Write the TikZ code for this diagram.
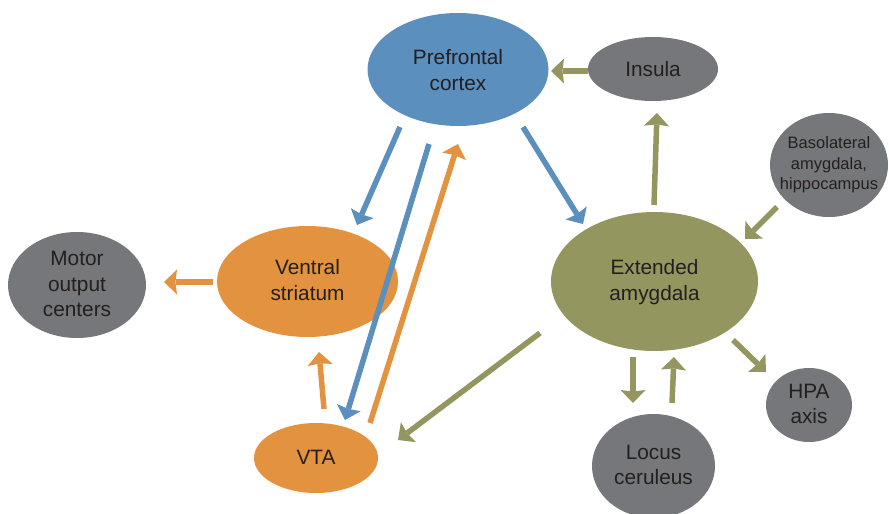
\documentclass[tikz,border=0pt]{standalone}
\usepackage{fontspec}
\setmainfont{Liberation Sans}
\usetikzlibrary{shapes.geometric,arrows.meta,calc}

\definecolor{pfcblue}{HTML}{5B8FBD}
\definecolor{daorange}{HTML}{E3923F}
\definecolor{amolive}{HTML}{949660}
\definecolor{regiongray}{HTML}{76777A}
\definecolor{inkdark}{HTML}{231F20}

% centred multi-line label that does not enlarge its ellipse
\newcommand\blobtext[1]{\smash{\makebox[0pt]{\raisebox{-0.25em}{\begin{tabular}{@{}c@{}}#1\end{tabular}}}}}

\tikzset{
  blob/.style={ellipse, inner sep=0pt, outer sep=0pt, text=inkdark,
               font=\fontsize{20.8}{25.5}\selectfont},
  link/.style={line width=5.5pt,
               -{Stealth[length=13pt,width=25pt,inset=1.5pt,line width=0pt]}},
}

\begin{document}
\begin{tikzpicture}[x=1pt,y=-1pt]
\useasboundingbox (0,0) rectangle (889,514);

% regions
\node[blob, fill=pfcblue, minimum width=181pt, minimum height=113pt] (pfc) at (458,69.5)
  {\raisebox{-6pt}{\blobtext{Prefrontal\\cortex}}};
\node[blob, fill=regiongray, minimum width=130pt, minimum height=64pt] (ins) at (653,69)
  {\raisebox{-4pt}{\blobtext{Insula}}};
\node[blob, fill=regiongray, minimum width=118pt, minimum height=104pt,
      font=\fontsize{16.5}{20.5}\selectfont] (bla) at (829,165)
  {\raisebox{-1pt}{\blobtext{Basolateral\\amygdala,\\hippocampus}}};
\node[blob, fill=amolive, minimum width=207pt, minimum height=139pt] (ea) at (654.5,281.5)
  {\raisebox{-2pt}{\blobtext{Extended\\amygdala}}};
\node[blob, fill=regiongray, minimum width=138pt, minimum height=106pt] (mot) at (77,285)
  {\raisebox{-2pt}{\blobtext{Motor\\output\\centers}}};
\node[blob, fill=daorange, minimum width=181pt, minimum height=111pt] (vs) at (307.5,281.5)
  {\raisebox{-2pt}{\blobtext{Ventral\\striatum}}};
\node[blob, fill=daorange, minimum width=124pt, minimum height=70pt] (vta) at (316,458)
  {\raisebox{-3pt}{\blobtext{VTA}}};
\node[blob, fill=regiongray, minimum width=123pt, minimum height=104pt] (lc) at (653.5,466)
  {\raisebox{-2pt}{\blobtext{Locus\\ceruleus}}};
\node[blob, fill=regiongray, minimum width=86pt, minimum height=74pt] (hpa) at (809,405)
  {\raisebox{-2pt}{\blobtext{HPA\\axis}}};

% prefrontal projections
\draw[link, pfcblue] ($(pfc)+(-58,57.5)$) -- ($(vs)+(49.5,-56.5)$);
\draw[link, pfcblue] ($(pfc)+(-29,74.5)$) -- ($(vta)+(29,-38)$);
\draw[link, pfcblue] ($(pfc)+(65,57.5)$) -- ($(ea)+(-71.5,-57.5)$);

% dopaminergic projections
\draw[link, daorange] ($(vta)+(54,-35)$) -- ($(pfc)+(0,74.5)$);
\draw[link, daorange] ($(vta)+(8,-49)$) -- ($(vs)+(11.5,70.5)$);
\draw[link, daorange] ($(vs)+(-94.5,0.5)$) -- ($(mot)+(87,-3)$);

% amygdala circuit
\draw[link, amolive] ($(ins)+(-65,2)$) -- ($(pfc)+(93,1.5)$);
\draw[link, amolive] ($(ea)+(-0.5,-76.5)$) -- ($(ins)+(4,44)$);
\draw[link, amolive] ($(bla)+(-52,42)$) -- ($(ea)+(90.5,-42.5)$);
\draw[link, amolive] ($(ea)+(-114.5,51.5)$) -- ($(vta)+(82,-18)$);
\draw[link, amolive] ($(ea)+(-21.5,75.5)$) -- ($(lc)+(-20.5,-63)$);
\draw[link, amolive] ($(lc)+(18.5,-63)$) -- ($(ea)+(19.5,75.5)$);
\draw[link, amolive] ($(ea)+(78.5,58.5)$) -- ($(hpa)+(-43,-33)$);
\end{tikzpicture}
\end{document}
